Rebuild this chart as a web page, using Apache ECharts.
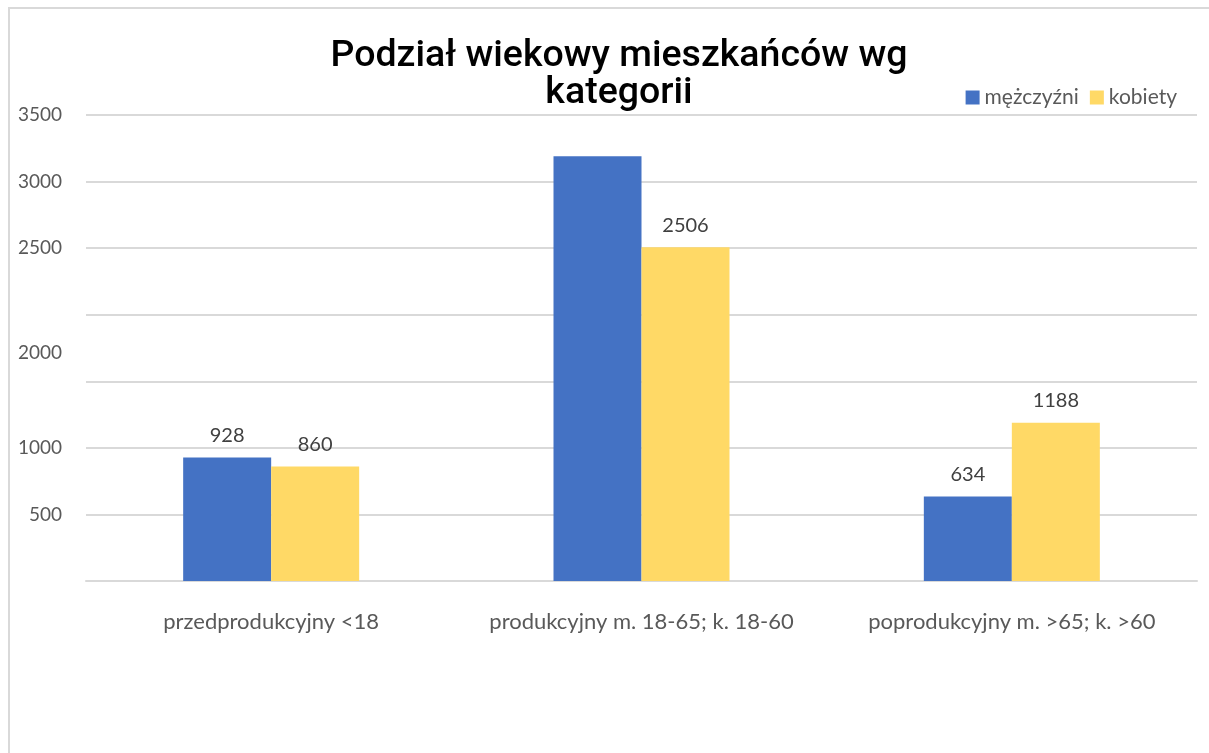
<!DOCTYPE html>
<html>
<head>
<meta charset="utf-8">
<script src="https://cdn.jsdelivr.net/npm/echarts@6/dist/echarts.min.js"></script>
<style>
html, body { margin: 0; padding: 0; background: #fff; }
#charts { width: 1209px; height: 753px; }
</style>
</head>
<body>
<div id="charts"></div>
<script>
var categories = ['przedprodukcyjny <18', 'produkcyjny m. 18-65; k. 18-60', 'poprodukcyjny m. >65; k. >60'];
var men = [928, 3190, 634];
var women = [860, 2506, 1188];
var menLabelShown = [true, false, true];
// etykiety osi Y tak jak na oryginale (1500 brak, 2000 przesunięte)
var yTickLabels = ['', '500', '1000', '', '2000', '2500', '3000', '3500'];

var myChart = echarts.init(document.getElementById('charts'));

var labelFont = 'Lato, "Open Sans", sans-serif';

var option = {
	backgroundColor: '#fff',
	animation: false,
	title: {
		text: 'Podział wiekowy mieszkańców wg\nkategorii',
		left: 614,
		textAlign: 'center',
		top: 33,
		textStyle: {
			fontFamily: 'Roboto, sans-serif',
			fontWeight: 500,
			fontSize: 37.5,
			lineHeight: 37,
			color: '#000'
		}
	},
	legend: {
		right: 27,
		top: 82,
		itemWidth: 14,
		itemHeight: 14,
		itemGap: 11,
		icon: 'rect',
		textStyle: { fontFamily: labelFont, fontSize: 21, color: '#595959', padding: [0, 0, 0, 0] },
		data: ['mężczyźni', 'kobiety']
	},
	grid: { left: 86, right: 12, top: 115, bottom: 172 },
	xAxis: {
		type: 'category',
		data: categories,
		axisTick: { show: false },
		axisLine: { lineStyle: { color: '#d9d9d9', width: 2 } },
		axisLabel: { interval: 0, margin: 30, fontFamily: labelFont, fontSize: 22, color: '#595959' }
	},
	yAxis: {
		type: 'value',
		min: 0,
		max: 3500,
		interval: 500,
		axisLine: { show: false },
		axisTick: { show: false },
		splitLine: { lineStyle: { color: '#d9d9d9', width: 2 } },
		axisLabel: {
			margin: 24,
			fontFamily: labelFont,
			fontSize: 19,
			color: '#595959',
			formatter: function(v){
				var t = yTickLabels[Math.round(v / 500)];
				if(v === 2000){
					return '{low|' + t + '}';
				}
				return t;
			},
			rich: {
				low: { fontFamily: labelFont, fontSize: 19, color: '#595959', padding: [76, 0, 0, 0] }
			}
		}
	},
	series: [
		{
			name: 'mężczyźni',
			type: 'bar',
			barWidth: 88,
			barGap: '0%',
			itemStyle: { color: '#4472C4' },
			label: {
				show: true,
				position: 'top',
				distance: 12,
				fontFamily: labelFont,
				fontSize: 20,
				color: '#404040'
			},
			data: men.map(function(v, i){
				return { value: v, label: { show: menLabelShown[i] } };
			})
		},
		{
			name: 'kobiety',
			type: 'bar',
			barWidth: 88,
			itemStyle: { color: '#FFD966' },
			label: {
				show: true,
				position: 'top',
				distance: 12,
				fontFamily: labelFont,
				fontSize: 20,
				color: '#404040'
			},
			data: women
		}
	],
	graphic: [
		{
			type: 'polyline',
			shape: { points: [[9, 753], [9, 8], [1209, 8]] },
			style: { stroke: '#d9d9d9', lineWidth: 2, fill: null },
			silent: true
		}
	]
};

myChart.setOption(option);
</script>
</body>
</html>
